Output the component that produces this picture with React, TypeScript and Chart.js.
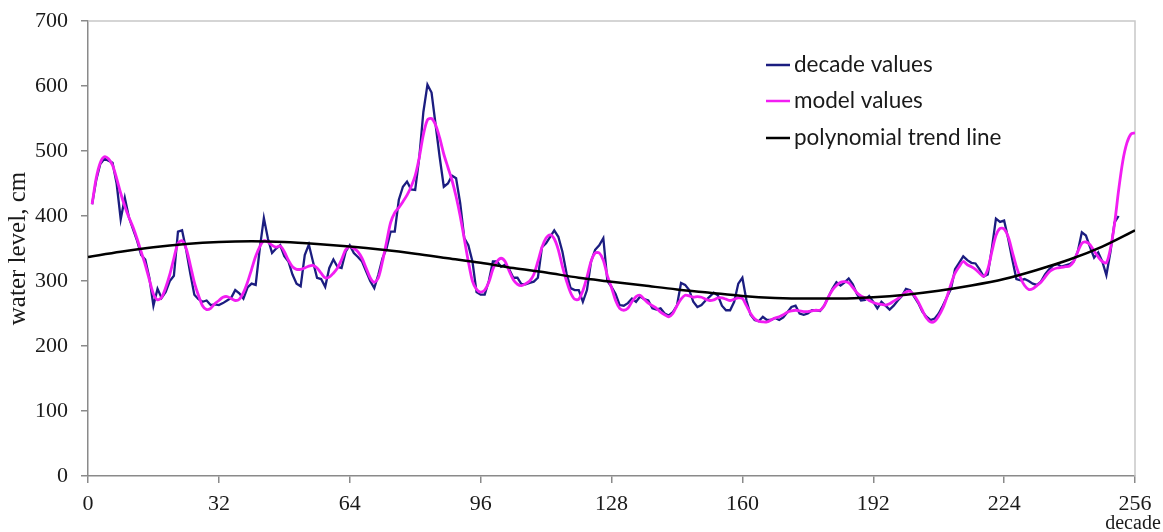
import React, { useEffect, useRef } from "react";
import { Chart, registerables } from "chart.js";

Chart.register(...registerables);

// ---- data ----
const seriesNames = ["decade values", "model values", "polynomial trend line"];

// decade values, x = 1 .. 252
const decadeStartX = 1;
const decadeValues = [
  418, 455, 480, 488, 485, 482, 450, 395, 428, 398,
  380, 362, 340, 333, 305, 262, 288, 274, 283, 300,
  308, 376, 378, 348, 312, 279, 272, 268, 270, 263,
  264, 263, 266, 270, 274, 286, 281, 273, 290, 296,
  294, 350, 397, 365, 343, 350, 355, 338, 330, 310,
  296, 292, 340, 356, 330, 305, 303, 291, 320, 333,
  322, 320, 345, 355, 343, 337, 330, 315, 300, 289,
  310, 335, 350, 376, 376, 425, 445, 453, 441, 440,
  490, 560, 602, 590, 540, 490, 445, 450, 462, 458,
  420, 366, 355, 330, 283, 279, 279, 300, 330, 330,
  322, 325, 318, 305, 305, 295, 295, 297, 299, 305,
  352, 358, 368, 378, 368, 345, 312, 289, 286, 286,
  268, 286, 330, 348, 355, 366, 300, 291, 280, 263,
  262, 266, 273, 268, 276, 272, 270, 258, 256, 258,
  250, 247, 252, 262, 297, 294, 286, 268, 260, 263,
  270, 276, 282, 278, 262, 255, 255, 268, 296, 305,
  270, 248, 240, 238, 245, 240, 240, 243, 240, 244,
  252, 260, 262, 250, 248, 250, 255, 255, 254, 262,
  275, 288, 298, 293, 298, 304, 295, 280, 270, 271,
  277, 268, 258, 268, 262, 256, 262, 270, 277, 288,
  286, 276, 266, 253, 245, 240, 242, 250, 262, 275,
  288, 318, 328, 338, 332, 328, 327, 318, 307, 310,
  350, 396, 391, 393, 365, 333, 303, 301, 303, 300,
  296, 294, 299, 310, 318, 324, 326, 322, 324, 326,
  330, 345, 375, 370, 352, 336, 344, 330, 309, 345,
  390, 400,
];

// model values, x = 1 .. 256
const modelStartX = 1;
const modelValues = [
  418, 458, 482, 491, 488, 478, 458, 435, 415, 398,
  383, 365, 345, 325, 302, 280, 271, 275, 290, 310,
  335, 358, 362, 350, 325, 298, 278, 262, 256, 258,
  265, 270, 275, 276, 273, 270, 272, 282, 298, 318,
  338, 353, 362, 360, 355, 352, 354, 345, 332, 322,
  318, 318, 320, 323, 324, 320, 312, 305, 306, 312,
  320, 333, 348, 353, 350, 345, 335, 320, 305, 298,
  305, 330, 360, 390, 405, 413, 422, 432, 445, 462,
  490, 525, 548, 550, 540, 520, 495, 475, 455, 430,
  400, 365, 330, 300, 287, 283, 286, 298, 318, 330,
  335, 330, 315, 302, 295, 293, 296, 300, 310, 330,
  352, 366, 371, 365, 348, 322, 300, 282, 272, 272,
  285, 306, 330, 343, 343, 332, 308, 290, 270, 258,
  255, 258, 268, 276, 278, 272, 266, 262, 258, 252,
  248, 245, 250, 262, 272, 278, 277, 275, 276, 275,
  272, 270, 271, 274, 274, 272, 270, 272, 274, 273,
  262, 250, 242, 238, 237, 237, 240, 243, 245, 248,
  252, 254, 255, 254, 253, 253, 254, 255, 255, 262,
  275, 286, 293, 298, 299, 297, 290, 282, 277, 274,
  270, 267, 265, 264, 263, 265, 269, 273, 278, 283,
  284, 278, 268, 255, 243, 237, 238, 246, 258, 275,
  295, 312, 322, 330, 325, 322, 318, 312, 307, 318,
  345, 370, 381, 380, 368, 345, 322, 305, 293, 287,
  288, 293, 298, 306, 314, 318, 320, 321, 322, 323,
  330, 345, 358, 360, 356, 346, 337, 330, 328, 350,
  388, 440, 484, 512, 526, 528,
];

// polynomial trend line, read every 8 decades
const trendX = [
  0, 8, 16, 24, 32, 40, 48, 56, 64, 72, 80, 88, 96, 104, 112, 120, 128,
  136, 144, 152, 160, 168, 176, 184, 192, 200, 208, 216, 224, 232, 240, 248, 256,
];
const trendValues = [
  337, 345, 352, 357, 360, 361, 360, 357, 353, 348, 342, 335, 328, 320, 313, 305, 299,
  293, 287, 282, 277, 274, 273, 273, 275, 279, 285, 293, 303, 317, 333, 353, 378,
];

const xTicks = [0, 32, 64, 96, 128, 160, 192, 224, 256];
const yTicks = [0, 100, 200, 300, 400, 500, 600, 700];

const colors = ["#1b1d80", "#f21df2", "#000000"];

const SERIF = '"Liberation Serif", "Times New Roman", serif';

export default function App() {
  const ref = useRef<HTMLCanvasElement>(null);

  useEffect(() => {
    const canvas = ref.current;
    if (!canvas) return;

    const framePlugin = {
      id: "frame",
      beforeDatasetsDraw(chart: any) {
        const { ctx, chartArea: a } = chart;
        ctx.save();
        ctx.strokeStyle = "#c8c8c8";
        ctx.lineWidth = 1.5;
        ctx.beginPath();
        ctx.moveTo(a.left, a.top);
        ctx.lineTo(a.right, a.top);
        ctx.lineTo(a.right, a.bottom);
        ctx.stroke();
        ctx.restore();
      },
    };

    const legendPlugin = {
      id: "customLegend",
      afterDraw(chart: any) {
        const { ctx } = chart;
        const rows = [65, 101, 138];
        ctx.save();
        ctx.font = '22.5px Lato, "Open Sans", sans-serif';
        ctx.textBaseline = "middle";
        ctx.textAlign = "left";
        seriesNames.forEach((name, i) => {
          ctx.strokeStyle = colors[i];
          ctx.lineWidth = 2.5;
          ctx.beginPath();
          ctx.moveTo(766, rows[i]);
          ctx.lineTo(790, rows[i]);
          ctx.stroke();
          ctx.fillStyle = "#1a1a1a";
          ctx.fillText(name, 794, rows[i]);
        });
        ctx.restore();
      },
    };

    const decadeLabelPlugin = {
      id: "decadeLabel",
      afterDraw(chart: any) {
        const { ctx } = chart;
        ctx.save();
        ctx.font = `20px ${SERIF}`;
        ctx.fillStyle = "#1a1a1a";
        ctx.textAlign = "center";
        ctx.textBaseline = "alphabetic";
        ctx.fillText("decade", 1133, 529);
        ctx.restore();
      },
    };

    const tickFont = { family: SERIF, size: 22 };

    const chart = new Chart(canvas, {
      type: "line",
      data: {
        datasets: [
          {
            label: seriesNames[2],
            data: trendValues.map((v, i) => ({ x: trendX[i], y: v })),
            borderColor: colors[2],
            borderWidth: 2.5,
            pointRadius: 0,
            tension: 0.4,
            cubicInterpolationMode: "monotone",
            fill: false,
            order: 0,
          },
          {
            label: seriesNames[1],
            data: modelValues.map((v, i) => ({ x: modelStartX + i, y: v })),
            borderColor: colors[1],
            borderWidth: 2.8,
            pointRadius: 0,
            tension: 0.3,
            fill: false,
            order: 1,
          },
          {
            label: seriesNames[0],
            data: decadeValues.map((v, i) => ({ x: decadeStartX + i, y: v })),
            borderColor: colors[0],
            borderWidth: 2.3,
            pointRadius: 0,
            tension: 0,
            fill: false,
            order: 2,
          },
        ],
      },
      options: {
        animation: false,
        responsive: false,
        maintainAspectRatio: false,
        layout: { padding: { top: 21, right: 28, left: 0, bottom: 0 } },
        plugins: {
          legend: { display: false },
          tooltip: { enabled: false },
        },
        scales: {
          x: {
            type: "linear",
            min: 0,
            max: 256,
            afterBuildTicks: (s: any) => {
              s.ticks = xTicks.map((v) => ({ value: v }));
            },
            afterFit: (s: any) => {
              s.height = 56;
              s.paddingLeft = 0;
              s.paddingRight = 0;
            },
            ticks: {
              font: tickFont,
              color: "#1a1a1a",
              padding: 8,
              maxRotation: 0,
              autoSkip: false,
            },
            grid: {
              display: true,
              drawOnChartArea: false,
              drawTicks: true,
              tickLength: 7,
              color: "#8a8a8a",
              lineWidth: 1.5,
            },
            border: { display: true, color: "#8a8a8a", width: 1.5 },
          },
          y: {
            type: "linear",
            min: 0,
            max: 700,
            afterBuildTicks: (s: any) => {
              s.ticks = yTicks.map((v) => ({ value: v }));
            },
            afterFit: (s: any) => {
              s.width = 88;
              s.paddingTop = 0;
              s.paddingBottom = 0;
            },
            ticks: {
              font: tickFont,
              color: "#1a1a1a",
              padding: 13,
            },
            grid: {
              display: true,
              drawOnChartArea: false,
              drawTicks: true,
              tickLength: 7,
              color: "#8a8a8a",
              lineWidth: 1.5,
            },
            border: { display: true, color: "#8a8a8a", width: 1.5 },
            title: {
              display: true,
              text: "water level, cm",
              font: { family: SERIF, size: 25 },
              color: "#1a1a1a",
              padding: { top: 3, bottom: 0 },
            },
          },
        },
      } as any,
      plugins: [framePlugin, legendPlugin, decadeLabelPlugin],
    });

    return () => chart.destroy();
  }, []);

  return (
    <div
      style={{
        position: "absolute",
        left: 0,
        top: 0,
        width: 1163,
        height: 532,
        background: "#ffffff",
      }}
    >
      <canvas
        ref={ref}
        width={1163}
        height={532}
        style={{ display: "block", width: 1163, height: 532 }}
      />
    </div>
  );
}
